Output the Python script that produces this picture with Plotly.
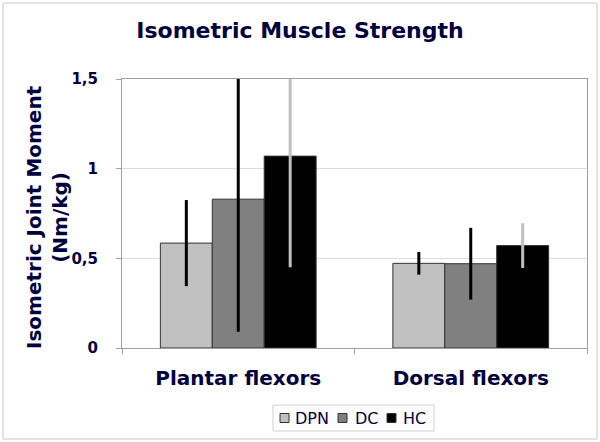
import plotly.graph_objects as go

categories = ["Plantar flexors", "Dorsal flexors"]
groups = ["DPN", "DC", "HC"]
means = {
    "DPN": [0.585, 0.472],
    "DC": [0.83, 0.47],
    "HC": [1.07, 0.571],
}
sds = {
    "DPN": [0.24, 0.063],
    "DC": [0.74, 0.20],
    "HC": [0.62, 0.125],
}
bar_colors = {"DPN": "#c0c0c0", "DC": "#808080", "HC": "#000000"}
err_colors = {"DPN": "#000000", "DC": "#000000", "HC": "#c0c0c0"}
yticks = [0, 0.5, 1, 1.5]

navy = "#000040"
font_family = "DejaVu Sans, Verdana, sans-serif"

fig = go.Figure()
for g in groups:
    fig.add_trace(go.Bar(
        name=g,
        x=categories,
        y=means[g],
        marker=dict(color=bar_colors[g], line=dict(color="#333333", width=1)),
        error_y=dict(type="data", array=sds[g], visible=True,
                     color=err_colors[g], thickness=3, width=0),
        showlegend=False,
    ))

L, R, T, B = 122, 13, 79, 94
W, H = 600, 442
pw, ph = W - L - R, H - T - B


def px_x(px):
    return (px - L) / pw


def px_y(py):
    return (H - B - py) / ph


# manual legend (box, swatches, labels) in pixel layout positions
legend_box = (273, 405, 434, 431)
legend_sym_x = [280, 338, 387]
legend_txt_x = [293, 353, 401]
legend_cy = 418

shapes = [
    dict(type="rect", xref="paper", yref="paper",
         x0=px_x(3), x1=px_x(W - 3), y0=px_y(H - 3), y1=px_y(3),
         line=dict(color="#c8c8c8", width=1), layer="below"),
    dict(type="rect", xref="paper", yref="paper",
         x0=px_x(legend_box[0]), x1=px_x(legend_box[2]),
         y0=px_y(legend_box[3]), y1=px_y(legend_box[1]),
         line=dict(color="#d0d0d0", width=1), fillcolor="white"),
]
annotations = [
    dict(text="<b>Isometric Joint Moment<br>(Nm/kg)</b>", xref="paper", yref="paper",
         x=px_x(47), y=px_y(217), xanchor="center", yanchor="middle",
         textangle=-90, showarrow=False, font=dict(size=20, color=navy)),
]
for g, sx, tx in zip(groups, legend_sym_x, legend_txt_x):
    shapes.append(dict(type="rect", xref="paper", yref="paper",
                       x0=px_x(sx), x1=px_x(sx + 9),
                       y0=px_y(legend_cy + 4.5), y1=px_y(legend_cy - 4.5),
                       fillcolor=bar_colors[g], line=dict(color="#333333", width=1)))
    annotations.append(dict(text=g, xref="paper", yref="paper",
                            x=px_x(tx), y=px_y(legend_cy), xanchor="left", yanchor="middle",
                            showarrow=False, font=dict(size=16, color=navy)))

fig.update_layout(
    width=W, height=H,
    margin=dict(l=L, r=R, t=T, b=B, autoexpand=False),
    paper_bgcolor="white", plot_bgcolor="white",
    barmode="group", bargap=0.33, bargroupgap=0,
    separators=",.",
    font=dict(family=font_family, color=navy),
    title=dict(text="Isometric Muscle Strength", x=0.5, xanchor="center",
               y=1 - 30 / H, yanchor="middle",
               font=dict(size=22, color=navy, weight="bold")),
    showlegend=False,
    shapes=shapes,
    annotations=annotations,
)
fig.update_xaxes(
    automargin=False,
    showline=True, linecolor="#a0a0a0", mirror=True,
    ticks="outside", tickson="boundaries", ticklen=5, tickcolor="#a0a0a0",
    tickfont=dict(size=20, color=navy, weight="bold"),
    ticklabelstandoff=12,
)
fig.update_yaxes(
    automargin=False,
    range=[0, 1.5], tickvals=yticks,
    showline=True, linecolor="#a0a0a0", mirror=True,
    showgrid=True, gridcolor="#dcdcdc", gridwidth=1, zeroline=False,
    ticks="outside", ticklen=5, tickcolor="#a0a0a0",
    tickfont=dict(size=15, color=navy, weight="bold"),
    ticklabelstandoff=15,
)

fig.write_html("out.html", config={"displayModeBar": False},
               post_script="document.body.style.margin='0';document.body.style.overflow='hidden';")
